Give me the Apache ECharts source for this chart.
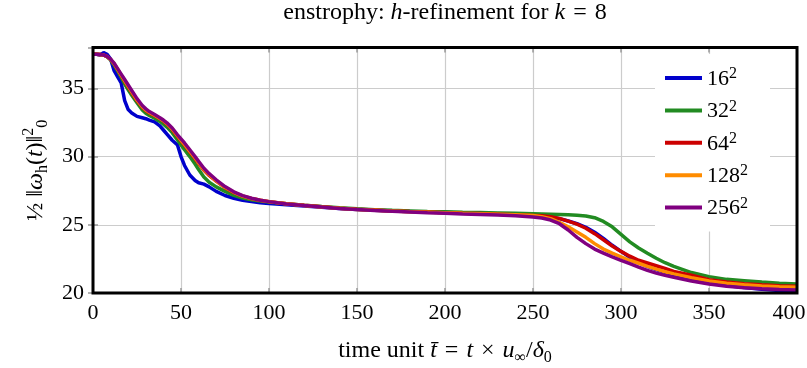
<!DOCTYPE html>
<html><head><meta charset="utf-8">
<script src="https://cdn.jsdelivr.net/npm/echarts/dist/echarts.min.js"></script>
<style>html,body{margin:0;padding:0;background:#fff}#c{width:807px;height:368px}</style>
</head><body><div id="c"></div>
<script>
const times = [0,2,4,6,8,10,12,14,16,18,20,
  22,25,28,30,32,35,38,40,42,45,48,50,52,55,58,60,63,66,70,75,80,85,90,95,100,
  110,120,130,140,150,160,170,180,190,200,210,220,230,240,250,
  255,260,265,270,275,280,285,290,295,300,305,310,315,320,325,330,
  340,350,360,370,380,390,400];

const res16 = [37.55,37.5,37.45,37.62,37.5,37.15,36.3,35.85,35.4,34.1,33.45,
  33.2,32.95,32.85,32.78,32.68,32.55,32.25,31.95,31.65,31.2,30.85,30.0,29.35,28.65,28.25,28.08,27.98,27.78,27.45,27.15,26.95,26.8,26.7,26.62,26.56,
  26.47,26.38,26.29,26.2,26.13,26.07,26.02,25.97,25.93,25.9,25.87,25.84,25.8,25.76,25.7,
  25.65,25.58,25.45,25.28,25.08,24.82,24.45,24.0,23.5,23.05,22.62,22.25,21.95,21.72,21.52,21.35,
  21.05,20.78,20.55,20.4,20.28,20.18,20.12];

const res32 = [37.5,37.5,37.48,37.45,37.33,37.08,36.72,36.28,35.82,35.32,34.9,
  34.5,33.95,33.42,33.18,33.02,32.82,32.58,32.38,32.16,31.76,31.22,30.86,30.5,30.0,29.45,29.05,28.5,28.12,27.78,27.45,27.16,26.96,26.84,26.74,26.67,
  26.55,26.44,26.34,26.25,26.17,26.11,26.06,26.02,25.98,25.95,25.92,25.9,25.87,25.84,25.81,
  25.79,25.77,25.75,25.73,25.7,25.65,25.52,25.25,24.85,24.3,23.75,23.3,22.92,22.55,22.22,21.95,
  21.5,21.2,21.0,20.9,20.8,20.72,20.66];

const res64 = [37.5,37.5,37.48,37.45,37.33,37.12,36.8,36.38,35.95,35.52,35.1,
  34.7,34.1,33.62,33.38,33.2,33.0,32.78,32.6,32.38,31.98,31.48,31.15,30.85,30.35,29.85,29.5,29.0,28.62,28.2,27.72,27.36,27.1,26.93,26.8,26.7,
  26.55,26.43,26.32,26.22,26.14,26.08,26.02,25.97,25.93,25.89,25.85,25.82,25.78,25.74,25.69,
  25.66,25.6,25.47,25.27,25.05,24.75,24.35,23.9,23.45,23.05,22.7,22.4,22.2,22.0,21.8,21.58,
  21.3,20.98,20.8,20.68,20.6,20.54,20.5];

const res128 = [37.5,37.5,37.48,37.45,37.34,37.13,36.82,36.4,35.98,35.56,35.15,
  34.75,34.15,33.66,33.42,33.24,33.03,32.8,32.63,32.42,32.03,31.53,31.2,30.9,30.4,29.9,29.55,29.06,28.67,28.24,27.75,27.38,27.11,26.93,26.8,26.7,
  26.54,26.42,26.31,26.21,26.13,26.07,26.01,25.96,25.92,25.88,25.84,25.81,25.77,25.73,25.68,
  25.6,25.45,25.18,24.85,24.48,24.08,23.62,23.22,22.92,22.65,22.4,22.18,21.95,21.75,21.56,21.4,
  21.12,20.88,20.72,20.6,20.52,20.46,20.42];

const res256 = [37.5,37.5,37.48,37.45,37.35,37.15,36.85,36.45,36.05,35.65,35.25,
  34.85,34.25,33.75,33.5,33.3,33.08,32.85,32.68,32.48,32.1,31.6,31.3,31.0,30.5,30.0,29.65,29.15,28.75,28.3,27.8,27.42,27.14,26.95,26.8,26.7,
  26.53,26.41,26.3,26.2,26.12,26.05,25.99,25.94,25.89,25.85,25.8,25.76,25.71,25.66,25.58,
  25.5,25.35,25.08,24.62,24.08,23.62,23.22,22.92,22.65,22.4,22.15,21.9,21.66,21.46,21.29,21.15,
  20.88,20.66,20.5,20.39,20.31,20.26,20.22];

const seriesNames = ['16²','32²','64²','128²','256²'];
const legendBase = ['16','32','64','128','256'];
const seriesColors = ['#0000cc','#228b22','#cc0000','#ff8c00','#800080'];
const seriesValues = [res16,res32,res64,res128,res256];

const xTicks = [0,50,100,150,200,250,300,350,400];
const yTicks = [20,25,30,35];
const yMax = 38;

const FF = '"Liberation Serif","DejaVu Serif",serif';
const base = {fontFamily: FF, fontSize: 24, fontWeight: 'normal', color: '#000', lineHeight: 30, verticalAlign: 'middle'};
const rich = {
  n: Object.assign({}, base),
  i: Object.assign({}, base, {fontStyle: 'italic'}),
  sub: {fontFamily: FF, fontSize: 16, fontWeight: 'normal', color: '#000', lineHeight: 16, verticalAlign: 'bottom'},
  sup: {fontFamily: FF, fontSize: 16, fontWeight: 'normal', color: '#000', lineHeight: 16, verticalAlign: 'top'}
};
const legendRich = {
  n: {fontFamily: FF, fontSize: 22, color: '#000', lineHeight: 24, verticalAlign: 'bottom'},
  sup: {fontFamily: FF, fontSize: 16, color: '#000', lineHeight: 24, verticalAlign: 'top'}
};

const chart = echarts.init(document.getElementById('c'), null, {renderer: 'canvas'});

const tickStyle = {show: true, inside: true, length: 5, lineStyle: {color: '#999', width: 1.5}};

chart.setOption({
  backgroundColor: '#fff',
  animation: false,
  title: {
    text: '{n|enstrophy: }{i|h}{n|-refinement for }{i|k}{n|\u2004=\u20048}',
    left: 445, textAlign: 'center', top: -2, padding: 0,
    textStyle: {fontWeight: 'normal', rich: rich}
  },
  grid: {left: 93, right: 10, top: 47.5, bottom: 75, show: true, borderColor: '#000', borderWidth: 3,
    backgroundColor: 'transparent', z: 10, outerBoundsMode: 'none', containLabel: false},
  legend: {
    orient: 'vertical', left: 655, top: 54,
    padding: [12, 22, 12, 10],
    backgroundColor: '#fff',
    icon: 'rect', itemWidth: 37, itemHeight: 4, itemGap: 8.4,
    formatter: function (name) { const k = seriesNames.indexOf(name); return '{n|' + legendBase[k] + '}{sup|2}'; },
    textStyle: {fontFamily: FF, fontSize: 22, color: '#000', rich: legendRich},
    data: seriesNames
  },
  xAxis: [{
    type: 'value', min: xTicks[0], max: xTicks[xTicks.length-1], interval: xTicks[1]-xTicks[0],
    axisLine: {show: false}, axisTick: tickStyle,
    axisLabel: {fontFamily: FF, fontSize: 22, color: '#000', margin: 9,
      formatter: function (v) { return v === xTicks[xTicks.length-1] ? '{r|' + v + '}' : String(v); },
      rich: {r: {fontFamily: FF, fontSize: 22, color: '#000', padding: [0, 16, 0, 0]}}},
    splitLine: {show: true, lineStyle: {color: '#ccc', width: 1.2}},
    name: '{n|time unit }{i|t̄}{n|\u2004=\u2004}{i|t}{n|\u2004×\u2004}{i|u}{sub|∞}{n|/}{i|δ}{sub|0}',
    nameLocation: 'middle', nameGap: 43,
    nameTextStyle: {rich: rich}
  }, {
    type: 'value', position: 'top', min: xTicks[0], max: xTicks[xTicks.length-1], interval: xTicks[1]-xTicks[0],
    axisLine: {show: false}, axisTick: tickStyle, axisLabel: {show: false}, splitLine: {show: false}
  }],
  yAxis: [{
    type: 'value', min: yTicks[0], max: yMax, interval: yTicks[1]-yTicks[0],
    axisLine: {show: false}, axisTick: tickStyle,
    axisLabel: {fontFamily: FF, fontSize: 22, color: '#000', margin: 9, showMaxLabel: false},
    splitLine: {show: true, lineStyle: {color: '#ccc', width: 1.2}},
    name: '{n|½ ‖}{i|ω}{sub|h}{n|(}{i|t}{n|)‖}{sup|2}{sub|0}',
    nameLocation: 'middle', nameGap: 40, nameRotate: 90,
    nameTextStyle: {rich: rich}
  }, {
    type: 'value', position: 'right', min: yTicks[0], max: yMax, interval: yTicks[1]-yTicks[0],
    axisLine: {show: false}, axisTick: tickStyle, axisLabel: {show: false}, splitLine: {show: false}
  }],
  series: seriesNames.map((name, k) => ({
    name: name, type: 'line', showSymbol: false, symbol: 'none',
    color: seriesColors[k],
    lineStyle: {width: 3.5, color: seriesColors[k]},
    z: 2 + k,
    data: times.map((t, j) => [t, seriesValues[k][j]])
  }))
});
</script></body></html>
